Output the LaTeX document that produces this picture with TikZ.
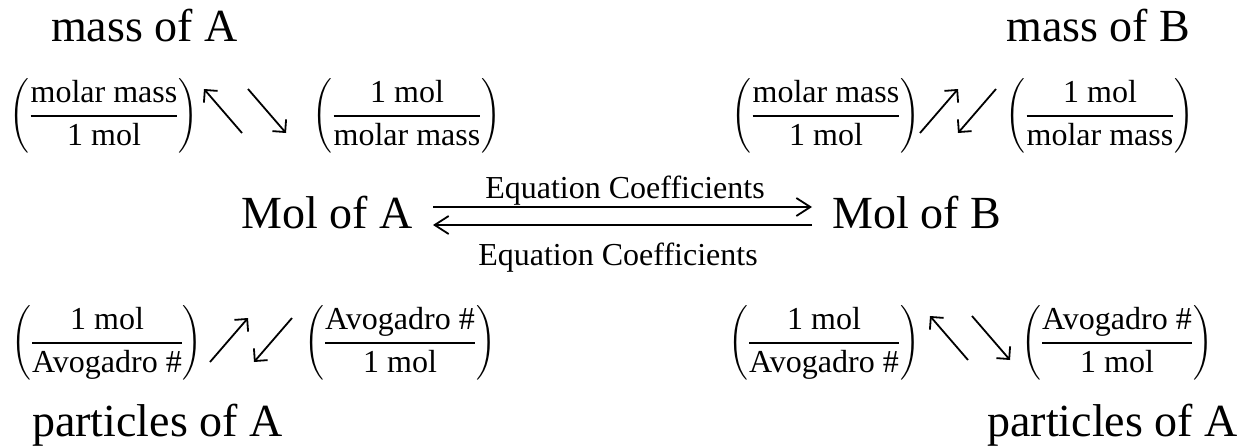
\RequirePackage{fix-cm}
\documentclass[tikz,border=0pt]{standalone}
\usepackage{amsmath}
\usepackage{fontspec}
\setmainfont{Liberation Serif}
\usetikzlibrary{arrows.meta}

\newcommand{\ratio}[2]{$\left(\rule[-30pt]{0pt}{76pt}\genfrac{}{}{1.8pt}{0}{\text{#1}}{\text{#2}}\right)$}

\begin{document}
\begin{tikzpicture}[
    x=1pt, y=-1pt,
    bigtext/.style={font=\fontsize{46}{54}\selectfont, inner sep=0pt, anchor=base west},
    ratiobox/.style={font=\fontsize{32}{38}\selectfont, inner sep=0pt},
    eqlabel/.style={font=\fontsize{32}{38}\selectfont, inner sep=0pt, anchor=base},
    diag/.style={-{Straight Barb[length=9pt,width=18pt]}, line width=1.8pt},
    eqarrow/.style={-{Straight Barb[length=14pt,width=18pt]}, line width=1.8pt}
]
\useasboundingbox (0,0) rectangle (1247,447);

% quantities
\node[bigtext] (massA) at (51,41) {mass of A};
\node[bigtext] (massB) at (1006,41) {mass of B};
\node[bigtext, anchor=base east] (molA) at (413,228) {Mol of A};
\node[bigtext] (molB) at (832,228) {Mol of B};
\node[bigtext] (partA) at (32,436) {particles of A};
\node[bigtext, anchor=base east] (partAr) at (1238,436) {particles of A};

% conversion factors, top row
\node[ratiobox] (mmA) at (104,116) {\ratio{molar mass}{1 mol}};
\node[ratiobox] (invmmA) at (407,116) {\ratio{1 mol}{molar mass}};
\node[ratiobox] (mmB) at (826,116) {\ratio{molar mass}{1 mol}};
\node[ratiobox] (invmmB) at (1100,116) {\ratio{1 mol}{molar mass}};

% conversion factors, bottom row
\node[ratiobox] (invavA) at (107,343) {\ratio{1 mol}{Avogadro \#}};
\node[ratiobox] (avA) at (400,343) {\ratio{Avogadro \#}{1 mol}};
\node[ratiobox] (invavB) at (824,343) {\ratio{1 mol}{Avogadro \#}};
\node[ratiobox] (avB) at (1117,343) {\ratio{Avogadro \#}{1 mol}};

% mole to mole
\draw[eqarrow] ([xshift=20pt,yshift=21pt]molA.base east) -- ([xshift=-20pt,yshift=21pt]molB.base west);
\draw[eqarrow] ([xshift=-20pt,yshift=3pt]molB.base west) -- ([xshift=20pt,yshift=3pt]molA.base east);
\node[eqlabel] (eqtop) at (625,198) {Equation Coefficients};
\node[eqlabel] (eqbot) at (618,265) {Equation Coefficients};

% small arrows between the factors
\coordinate (ma1) at (242,133); \coordinate (ma2) at (204,89);
\coordinate (ma3) at (248,89);  \coordinate (ma4) at (286,133);
\coordinate (mb1) at (920,133); \coordinate (mb2) at (958,89);
\coordinate (mb3) at (996,89);  \coordinate (mb4) at (958,133);
\coordinate (pa1) at (210,362); \coordinate (pa2) at (248,318);
\coordinate (pa3) at (292,318); \coordinate (pa4) at (254,362);
\coordinate (pb1) at (968,360); \coordinate (pb2) at (930,316);
\coordinate (pb3) at (972,316); \coordinate (pb4) at (1010,360);

\draw[diag] (ma1) -- (ma2);
\draw[diag] (ma3) -- (ma4);
\draw[diag] (mb1) -- (mb2);
\draw[diag] (mb3) -- (mb4);
\draw[diag] (pa1) -- (pa2);
\draw[diag] (pa3) -- (pa4);
\draw[diag] (pb1) -- (pb2);
\draw[diag] (pb3) -- (pb4);

\end{tikzpicture}
\end{document}
